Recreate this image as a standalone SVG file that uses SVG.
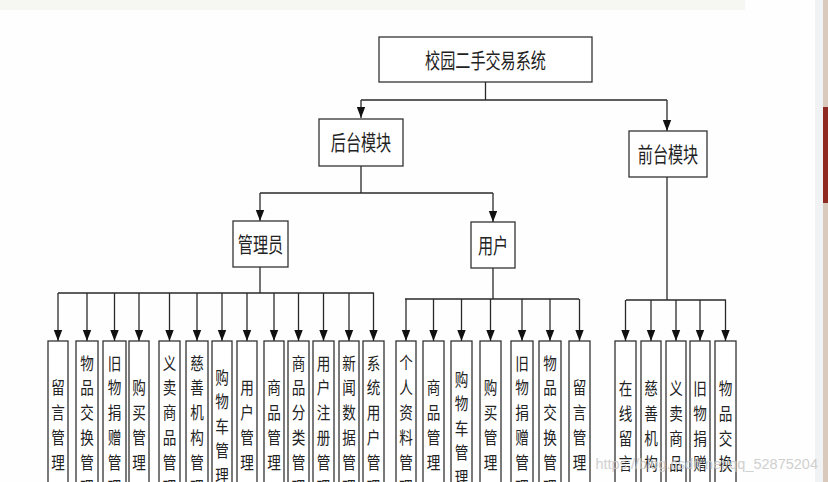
<svg xmlns="http://www.w3.org/2000/svg" width="828" height="482" viewBox="0 0 828 482">
<style>
.box{fill:#fff;stroke:#333;stroke-width:1.3}
.ln{fill:none;stroke:#2a2a2a;stroke-width:1.3}
.nt{font-family:"Noto Sans CJK SC","Noto Sans",sans-serif;font-size:21px;fill:#222;text-anchor:middle}
.lt{font-family:"Noto Sans CJK SC","Noto Sans",sans-serif;font-size:17px;fill:#222;text-anchor:middle}
.wm{font-family:"Liberation Sans",Arial,sans-serif;font-size:14.5px;fill:#c9c9c9;text-anchor:end}
</style>
<defs>
<marker id="ar" markerUnits="userSpaceOnUse" markerWidth="10" markerHeight="12" refX="5" refY="11" orient="auto-start-reverse" viewBox="0 0 10 12">
<path d="M0.5 0 L9.5 0 L5 11 Z" fill="#111" transform="rotate(-90 5 6)"/>
</marker>
<marker id="ad" markerUnits="userSpaceOnUse" markerWidth="10" markerHeight="12" refX="5" refY="11" orient="0" viewBox="0 0 10 12">
<path d="M0.8 0 L9.2 0 L5 11 Z" fill="#111"/>
</marker>
</defs>
<rect x="0" y="0" width="828" height="482" fill="#fefefe"/>
<rect x="0" y="0" width="745" height="10" fill="#f6f6f3"/>
<rect x="815" y="0" width="8" height="482" fill="#f1f2f4"/>
<rect x="823" y="0" width="5" height="482" fill="#d9c9bd"/>
<rect x="823" y="107" width="5" height="96" fill="#8e2a22"/>

<g id="connectors">
<path class="ln" d="M485.5 82 V100 M361 100 H667 M361 166 V193 M260 193 H493 M260 267 V293 M58 293 H374 M493 268 V299 M405 299 H579 M667 177 V300 M626 300 H726"/>
<g class="ln" marker-end="url(#ad)">
<path d="M361 100 V118"/>
<path d="M667 100 V131"/>
<path d="M260 193 V221"/>
<path d="M493 193 V222"/>
<path d="M58 293 V341"/><path d="M87 293 V341"/><path d="M114.5 293 V341"/><path d="M139 293 V341"/><path d="M169.5 293 V341"/><path d="M197 293 V341"/><path d="M222 293 V341"/><path d="M247 293 V341"/><path d="M274 293 V341"/><path d="M298.5 293 V341"/><path d="M323.5 293 V341"/><path d="M349 293 V341"/><path d="M373.5 293 V341"/>
<path d="M406 299 V341"/><path d="M433.5 299 V341"/><path d="M461.5 299 V341"/><path d="M490.5 299 V341"/><path d="M522 299 V341"/><path d="M550 299 V341"/><path d="M579.5 299 V341"/>
<path d="M625.5 300 V341"/><path d="M651 300 V341"/><path d="M676 300 V341"/><path d="M700 300 V341"/><path d="M725.5 300 V341"/>
</g>
</g>

<g id="root"><rect class="box" x="379" y="37" width="213" height="45"/><text class="nt" transform="translate(485.5 0) scale(0.72 1)" x="0" y="68">校园二手交易系统</text></g>
<g id="backend"><rect class="box" x="319" y="119" width="84" height="47"/><text class="nt" transform="translate(361 0) scale(0.72 1)" x="0" y="150">后台模块</text></g>
<g id="frontend"><rect class="box" x="629" y="131" width="78" height="46"/><text class="nt" transform="translate(668 0) scale(0.72 1)" x="0" y="162">前台模块</text></g>
<g id="admin"><rect class="box" x="233" y="221" width="55" height="46"/><text class="nt" transform="translate(260.5 0) scale(0.72 1)" x="0" y="252">管理员</text></g>
<g id="user"><rect class="box" x="471" y="222" width="44" height="46"/><text class="nt" transform="translate(493 0) scale(0.72 1)" x="0" y="253">用户</text></g>

<g id="a1"><rect class="box" x="48" y="341" width="20" height="170"/><text class="lt" transform="translate(58 0) scale(0.8 1)"><tspan x="0" y="394">留</tspan><tspan x="0" y="419">言</tspan><tspan x="0" y="444">管</tspan><tspan x="0" y="469">理</tspan></text></g>
<g id="a2"><rect class="box" x="76" y="341" width="22" height="170"/><text class="lt" transform="translate(87 0) scale(0.8 1)"><tspan x="0" y="370">物</tspan><tspan x="0" y="394">品</tspan><tspan x="0" y="419">交</tspan><tspan x="0" y="444">换</tspan><tspan x="0" y="469">管</tspan><tspan x="0" y="494">理</tspan></text></g>
<g id="a3"><rect class="box" x="103" y="341" width="23" height="170"/><text class="lt" transform="translate(114.5 0) scale(0.8 1)"><tspan x="0" y="370">旧</tspan><tspan x="0" y="394">物</tspan><tspan x="0" y="419">捐</tspan><tspan x="0" y="444">赠</tspan><tspan x="0" y="469">管</tspan><tspan x="0" y="494">理</tspan></text></g>
<g id="a4"><rect class="box" x="129" y="341" width="20" height="170"/><text class="lt" transform="translate(139 0) scale(0.8 1)"><tspan x="0" y="394">购</tspan><tspan x="0" y="419">买</tspan><tspan x="0" y="444">管</tspan><tspan x="0" y="469">理</tspan></text></g>
<g id="a5"><rect class="box" x="159" y="341" width="21" height="170"/><text class="lt" transform="translate(169.5 0) scale(0.8 1)"><tspan x="0" y="370">义</tspan><tspan x="0" y="394">卖</tspan><tspan x="0" y="419">商</tspan><tspan x="0" y="444">品</tspan><tspan x="0" y="469">管</tspan><tspan x="0" y="494">理</tspan></text></g>
<g id="a6"><rect class="box" x="186" y="341" width="22" height="170"/><text class="lt" transform="translate(197 0) scale(0.8 1)"><tspan x="0" y="370">慈</tspan><tspan x="0" y="394">善</tspan><tspan x="0" y="419">机</tspan><tspan x="0" y="444">构</tspan><tspan x="0" y="469">管</tspan><tspan x="0" y="494">理</tspan></text></g>
<g id="a7"><rect class="box" x="212" y="341" width="20" height="170"/><text class="lt" transform="translate(222 0) scale(0.8 1)"><tspan x="0" y="384">购</tspan><tspan x="0" y="408">物</tspan><tspan x="0" y="433">车</tspan><tspan x="0" y="457">管</tspan><tspan x="0" y="482">理</tspan></text></g>
<g id="a8"><rect class="box" x="237" y="341" width="20" height="170"/><text class="lt" transform="translate(247 0) scale(0.8 1)"><tspan x="0" y="394">用</tspan><tspan x="0" y="419">户</tspan><tspan x="0" y="444">管</tspan><tspan x="0" y="469">理</tspan></text></g>
<g id="a9"><rect class="box" x="264" y="341" width="20" height="170"/><text class="lt" transform="translate(274 0) scale(0.8 1)"><tspan x="0" y="394">商</tspan><tspan x="0" y="419">品</tspan><tspan x="0" y="444">管</tspan><tspan x="0" y="469">理</tspan></text></g>
<g id="a10"><rect class="box" x="288" y="341" width="21" height="170"/><text class="lt" transform="translate(298.5 0) scale(0.8 1)"><tspan x="0" y="370">商</tspan><tspan x="0" y="394">品</tspan><tspan x="0" y="419">分</tspan><tspan x="0" y="444">类</tspan><tspan x="0" y="469">管</tspan><tspan x="0" y="494">理</tspan></text></g>
<g id="a11"><rect class="box" x="313" y="341" width="21" height="170"/><text class="lt" transform="translate(323.5 0) scale(0.8 1)"><tspan x="0" y="370">用</tspan><tspan x="0" y="394">户</tspan><tspan x="0" y="419">注</tspan><tspan x="0" y="444">册</tspan><tspan x="0" y="469">管</tspan><tspan x="0" y="494">理</tspan></text></g>
<g id="a12"><rect class="box" x="339" y="341" width="20" height="170"/><text class="lt" transform="translate(349 0) scale(0.8 1)"><tspan x="0" y="370">新</tspan><tspan x="0" y="394">闻</tspan><tspan x="0" y="419">数</tspan><tspan x="0" y="444">据</tspan><tspan x="0" y="469">管</tspan><tspan x="0" y="494">理</tspan></text></g>
<g id="a13"><rect class="box" x="363" y="341" width="21" height="170"/><text class="lt" transform="translate(373.5 0) scale(0.8 1)"><tspan x="0" y="370">系</tspan><tspan x="0" y="394">统</tspan><tspan x="0" y="419">用</tspan><tspan x="0" y="444">户</tspan><tspan x="0" y="469">管</tspan><tspan x="0" y="494">理</tspan></text></g>

<g id="u1"><rect class="box" x="396" y="341" width="20" height="170"/><text class="lt" transform="translate(406 0) scale(0.8 1)"><tspan x="0" y="369">个</tspan><tspan x="0" y="394">人</tspan><tspan x="0" y="419">资</tspan><tspan x="0" y="444">料</tspan><tspan x="0" y="469">管</tspan><tspan x="0" y="494">理</tspan></text></g>
<g id="u2"><rect class="box" x="423" y="341" width="21" height="170"/><text class="lt" transform="translate(433.5 0) scale(0.8 1)"><tspan x="0" y="394">商</tspan><tspan x="0" y="419">品</tspan><tspan x="0" y="444">管</tspan><tspan x="0" y="469">理</tspan></text></g>
<g id="u3"><rect class="box" x="451" y="341" width="21" height="170"/><text class="lt" transform="translate(461.5 0) scale(0.8 1)"><tspan x="0" y="386">购</tspan><tspan x="0" y="410">物</tspan><tspan x="0" y="435">车</tspan><tspan x="0" y="459">管</tspan><tspan x="0" y="484">理</tspan></text></g>
<g id="u4"><rect class="box" x="480" y="341" width="21" height="170"/><text class="lt" transform="translate(490.5 0) scale(0.8 1)"><tspan x="0" y="394">购</tspan><tspan x="0" y="419">买</tspan><tspan x="0" y="444">管</tspan><tspan x="0" y="469">理</tspan></text></g>
<g id="u5"><rect class="box" x="511" y="341" width="22" height="170"/><text class="lt" transform="translate(522 0) scale(0.8 1)"><tspan x="0" y="370">旧</tspan><tspan x="0" y="394">物</tspan><tspan x="0" y="419">捐</tspan><tspan x="0" y="444">赠</tspan><tspan x="0" y="469">管</tspan><tspan x="0" y="494">理</tspan></text></g>
<g id="u6"><rect class="box" x="539" y="341" width="22" height="170"/><text class="lt" transform="translate(550 0) scale(0.8 1)"><tspan x="0" y="370">物</tspan><tspan x="0" y="394">品</tspan><tspan x="0" y="419">交</tspan><tspan x="0" y="444">换</tspan><tspan x="0" y="469">管</tspan><tspan x="0" y="494">理</tspan></text></g>
<g id="u7"><rect class="box" x="569" y="341" width="21" height="170"/><text class="lt" transform="translate(579.5 0) scale(0.8 1)"><tspan x="0" y="394">留</tspan><tspan x="0" y="419">言</tspan><tspan x="0" y="444">管</tspan><tspan x="0" y="469">理</tspan></text></g>

<g id="f1"><rect class="box" x="615" y="341" width="21" height="170"/><text class="lt" transform="translate(625.5 0) scale(0.8 1)"><tspan x="0" y="395">在</tspan><tspan x="0" y="420">线</tspan><tspan x="0" y="445">留</tspan><tspan x="0" y="470">言</tspan></text></g>
<g id="f2"><rect class="box" x="641" y="341" width="20" height="170"/><text class="lt" transform="translate(651 0) scale(0.8 1)"><tspan x="0" y="395">慈</tspan><tspan x="0" y="420">善</tspan><tspan x="0" y="445">机</tspan><tspan x="0" y="470">构</tspan></text></g>
<g id="f3"><rect class="box" x="666" y="341" width="20" height="170"/><text class="lt" transform="translate(676 0) scale(0.8 1)"><tspan x="0" y="395">义</tspan><tspan x="0" y="420">卖</tspan><tspan x="0" y="445">商</tspan><tspan x="0" y="470">品</tspan></text></g>
<g id="f4"><rect class="box" x="690" y="341" width="20" height="170"/><text class="lt" transform="translate(700 0) scale(0.8 1)"><tspan x="0" y="395">旧</tspan><tspan x="0" y="420">物</tspan><tspan x="0" y="445">捐</tspan><tspan x="0" y="470">赠</tspan></text></g>
<g id="f5"><rect class="box" x="715" y="341" width="21" height="170"/><text class="lt" transform="translate(725.5 0) scale(0.8 1)"><tspan x="0" y="395">物</tspan><tspan x="0" y="420">品</tspan><tspan x="0" y="445">交</tspan><tspan x="0" y="470">换</tspan></text></g>

<text class="wm" x="818" y="469" opacity="0.85">https://blog.csdn.net/qq_52875204</text>
</svg>
